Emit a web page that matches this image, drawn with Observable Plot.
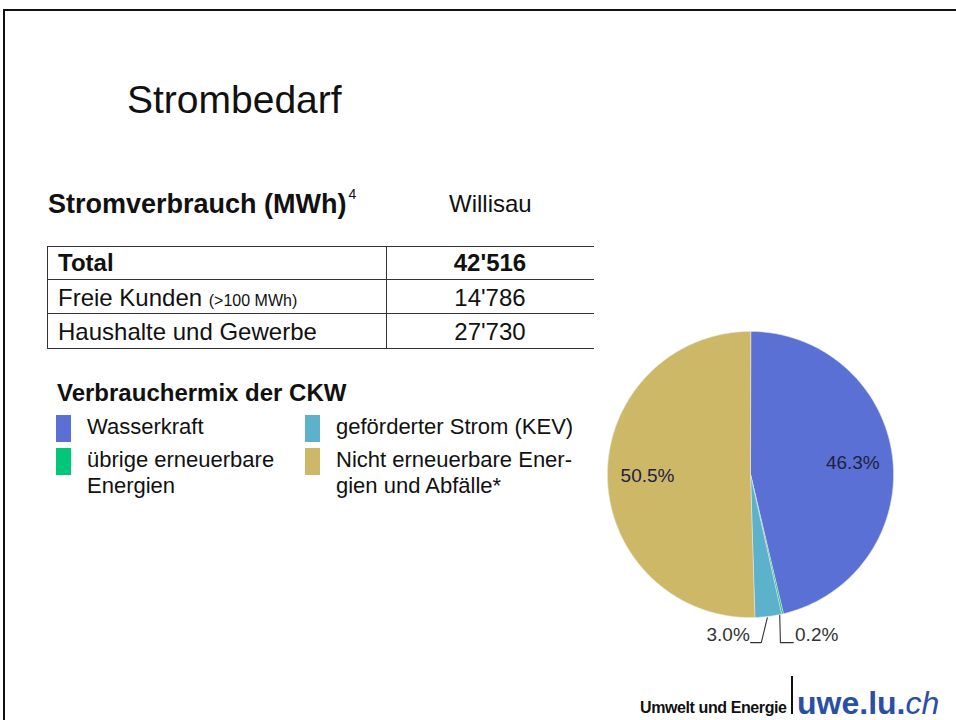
<!DOCTYPE html>
<html>
<head>
<meta charset="utf-8">
<script src="https://cdn.jsdelivr.net/npm/d3@7"></script>
<script src="https://cdn.jsdelivr.net/npm/@observablehq/plot@0.6"></script>
<style>
  html, body { margin: 0; padding: 0; background: #fff; }
  body { width: 956px; height: 720px; position: relative; overflow: hidden; font-family: "Liberation Sans", Arial, sans-serif; color: #111; }
  .abs { position: absolute; line-height: 1; white-space: nowrap; }
  .hl { position: absolute; height: 0; border-top: 1.6px solid #333; }
  .vl { position: absolute; width: 0; border-left: 1.6px solid #333; }
  .sw { position: absolute; width: 15px; height: 27px; }
  .leg { position: absolute; font-size: 22px; line-height: 26px; white-space: nowrap; }
</style>
</head>
<body>
<div id="frame" style="position:absolute;left:3px;top:9px;width:960px;height:720px;border-top:2px solid #111;border-left:2px solid #111;"></div>
<div class="abs" style="left:127px;top:80px;font-size:39px;">Strombedarf</div>
<div class="abs" style="left:48px;top:191px;font-size:27px;font-weight:bold;">Stromverbrauch (MWh)<sup style="font-size:14px;font-weight:normal;vertical-align:top;position:relative;top:-4px;margin-left:2px;">4</sup></div>
<div class="abs" id="place" style="left:449px;top:192px;font-size:24px;"></div>
<div id="table"></div>
<div class="abs" style="left:57px;top:381px;font-size:24px;font-weight:bold;">Verbrauchermix der CKW</div>
<div id="legend"></div>
<div id="pie" style="position:absolute;left:564px;top:288px;"></div>
<div class="abs" style="left:640px;top:700px;font-size:16px;font-weight:900;letter-spacing:-0.4px;">Umwelt und Energie</div>
<div style="position:absolute;left:791px;top:676px;width:2px;height:38px;background:#111;"></div>
<div class="abs" style="left:797px;top:687px;font-size:32px;font-weight:bold;color:#2b4fa6;">uwe.lu.<span style="font-style:italic;font-weight:normal;">ch</span></div>
<script>
// ---- data ----
const place = "Willisau";
const tableRows = ["Total", "Freie Kunden", "Haushalte und Gewerbe"];
const tableNotes = ["", "(>100 MWh)", ""];
const tableValues = ["42'516", "14'786", "27'730"];

const categories = ["Wasserkraft", "übrige erneuerbare Energien", "geförderter Strom (KEV)", "Nicht erneuerbare Energien und Abfälle*"];
const legendLabels = ["Wasserkraft", "übrige erneuerbare<br>Energien", "geförderter Strom (KEV)", "Nicht erneuerbare Ener-<br>gien und Abfälle*"];
const shares = [46.3, 0.2, 3.0, 50.5];
const colors = ["#5b70d5", "#00c878", "#5cb2ca", "#cdb868"];

// ---- header / table ----
document.getElementById("place").textContent = place;
const tbl = document.getElementById("table");
const lineYs = [246, 279, 313, 348];
let html = "";
lineYs.forEach(y => { html += `<div class="hl" style="left:47px;top:${y}px;width:547px;"></div>`; });
html += `<div class="vl" style="left:47px;top:246px;height:103px;"></div>`;
html += `<div class="vl" style="left:386px;top:246px;height:103px;"></div>`;
tableRows.forEach((r, i) => {
  const top = lineYs[i] + (i === 0 ? 5 : 7);
  const bold = i === 0 ? "font-weight:bold;" : "";
  const note = tableNotes[i] ? ` <span style="font-size:16px;">${tableNotes[i]}</span>` : "";
  html += `<div class="abs" style="left:58px;top:${top}px;font-size:24px;${bold}">${r}${note}</div>`;
  html += `<div class="abs" style="left:386px;width:208px;text-align:center;top:${top}px;font-size:24px;${bold}">${tableValues[i]}</div>`;
});
tbl.innerHTML = html;

// ---- legend ----
const legPos = [[56, 415], [56, 448], [305, 415], [305, 448]];
let lh = "";
categories.forEach((c, i) => {
  const [lx, ly] = legPos[i];
  lh += `<div class="sw" style="left:${lx}px;top:${ly}px;background:${colors[i]};"></div>`;
  lh += `<div class="leg" style="left:${lx + 31}px;top:${ly - 1}px;">${legendLabels[i]}</div>`;
});
document.getElementById("legend").innerHTML = lh;

// ---- pie via Plot ----
const total = d3.sum(shares);
let acc = 0;
const slices = categories.map((c, i) => {
  const a0 = acc / total, a1 = (acc + shares[i]) / total;
  acc += shares[i];
  return {cat: c, value: shares[i], a0, a1, mid: (a0 + a1) / 2};
});
const polyPts = [];
slices.forEach(s => {
  polyPts.push({cat: s.cat, x: 0, y: 0});
  const n = Math.max(2, Math.ceil((s.a1 - s.a0) * 360));
  for (let k = 0; k <= n; k++) {
    const a = 2 * Math.PI * (s.a0 + (s.a1 - s.a0) * k / n);
    polyPts.push({cat: s.cat, x: Math.sin(a), y: Math.cos(a)});
  }
});
const big = slices.filter(s => s.value >= 10);
const small = slices.filter(s => s.value < 10);
const inside = big.map(s => ({
  label: s.value.toFixed(1) + "%",
  x: 0.72 * Math.sin(2 * Math.PI * s.mid),
  y: 0.72 * Math.cos(2 * Math.PI * s.mid)
}));
const smallSorted = small.map(s => ({...s, ex: Math.sin(2 * Math.PI * s.mid), ey: Math.cos(2 * Math.PI * s.mid)}))
  .sort((a, b) => a.ex - b.ex);
const leaderPts = [], outLabels = [];
const ly = -1.175;
smallSorted.forEach((s, i) => {
  const left = i === 0;
  const ex = s.ex - (left ? 0.008 : 0.02), ey = s.ey - 0.01;
  const bx = left ? ex - 0.042 : ex + 0.005;
  const cx = left ? bx - 0.075 : bx + 0.09;
  leaderPts.push({id: s.cat, x: ex, y: ey}, {id: s.cat, x: bx, y: ly}, {id: s.cat, x: cx, y: ly});
  outLabels.push({label: s.value.toFixed(1) + "%", x: cx + (left ? -0.005 : 0.012), y: ly, anchor: left ? "end" : "start"});
});

const pie = Plot.plot({
  width: 372, height: 372,
  margin: 0,
  x: {domain: [-1.3, 1.3], axis: null},
  y: {domain: [-1.3, 1.3], axis: null},
  color: {domain: categories, range: colors},
  style: {background: "transparent", fontFamily: "Liberation Sans, Arial, sans-serif"},
  marks: [
    Plot.line(polyPts, {x: "x", y: "y", z: "cat", fill: "cat", stroke: "#e8e8e8", strokeWidth: 0.6, curve: "linear-closed"}),
    Plot.text(inside, {x: "x", y: "y", text: "label", fontSize: 19, fill: "#1e2240"}),
    Plot.line(leaderPts, {x: "x", y: "y", z: "id", stroke: "#333", strokeWidth: 1.1}),
    Plot.text(outLabels.filter(d => d.anchor === "end"), {x: "x", y: "y", text: "label", fontSize: 19, fill: "#333", textAnchor: "end", dy: -8}),
    Plot.text(outLabels.filter(d => d.anchor === "start"), {x: "x", y: "y", text: "label", fontSize: 19, fill: "#333", textAnchor: "start", dy: -8})
  ]
});
document.getElementById("pie").appendChild(pie);
</script>
</body>
</html>
